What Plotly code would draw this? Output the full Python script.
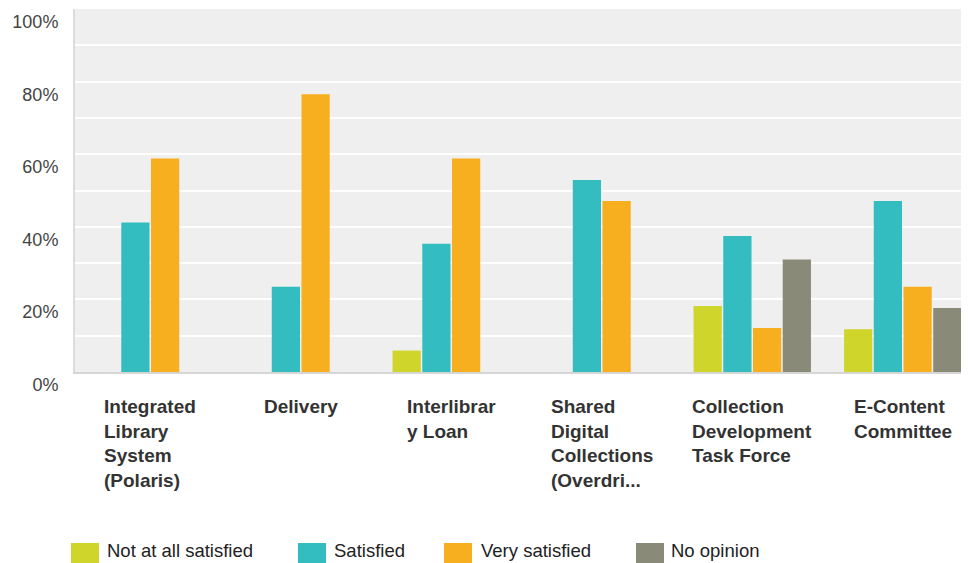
import plotly.graph_objects as go

categories = ["Integrated<br>Library<br>System<br>(Polaris)", "Delivery", "Interlibrar<br>y Loan",
              "Shared<br>Digital<br>Collections<br>(Overdri...", "Collection<br>Development<br>Task Force",
              "E-Content<br>Committee"]
series_names = ["Not at all satisfied", "Satisfied", "Very satisfied", "No opinion"]
not_at_all = [None, None, 5.9, None, 18.2, 11.8]
satisfied = [41.2, 23.5, 35.3, 52.9, 37.5, 47.1]
very_satisfied = [58.8, 76.5, 58.8, 47.1, 12.1, 23.5]
no_opinion = [None, None, None, None, 31.0, 17.6]
colors = ["#CFD52A", "#33BDC0", "#F7AF1F", "#8A8A79"]
tick_vals = [0, 10, 20, 30, 40, 50, 60, 70, 80, 90, 100]
tick_text = ["0%", "", "20%", "", "40%", "", "60%", "", "80%", "", "100%"]

OFF = 8  # page body margin
W, H = 969 - OFF, 563 - OFF
PL, PT, PB = 75, 9, 372  # plot edges in reference pixels
ML, MT = PL - OFF, PT - OFF
MB = 563 - PB
plot_w = 969 - PL
plot_h = PB - PT

xs = list(range(len(categories)))
fig = go.Figure()
for name, vals, col in zip(series_names, [not_at_all, satisfied, very_satisfied, no_opinion], colors):
    fig.add_trace(go.Bar(x=xs, y=vals, name=name, marker=dict(color=col, line=dict(width=0)),
                         showlegend=False))

cat_px = 150.5
span = plot_w / cat_px

def px_x(px):
    return (px - PL) / plot_w

def px_y(py):
    return (PB - py) / plot_h

FONT = "Liberation Sans, Arial, sans-serif"
annotations = []
for i, c in enumerate(categories):
    annotations.append(dict(x=i, y=px_y(394), xref="x", yref="paper", text="<b>" + c + "</b>",
                            showarrow=False, xanchor="center", yanchor="top", align="left",
                            font=dict(family=FONT, size=19, color="#333333")))

shapes = []
legend_pos = [(71, 105), (298, 332), (444, 479), (636, 669)]
for (sx, tx), name, col in zip(legend_pos, series_names, colors):
    shapes.append(dict(type="rect", xref="paper", yref="paper", x0=px_x(sx), x1=px_x(sx + 28),
                       y0=px_y(543), y1=px_y(571), fillcolor=col, line=dict(width=0), layer="above"))
    annotations.append(dict(x=px_x(tx), y=px_y(550), xref="paper", yref="paper", text=name,
                            showarrow=False, xanchor="left", yanchor="middle",
                            font=dict(family=FONT, size=18.5, color="#222222")))

fig.update_layout(
    width=W, height=H,
    margin=dict(l=ML, r=0, t=MT, b=MB, pad=0),
    paper_bgcolor="white", plot_bgcolor="#EFEFEF",
    barmode="group", bargap=0.21, bargroupgap=0.05,
    font=dict(family=FONT),
    annotations=annotations, shapes=shapes,
    xaxis=dict(range=[-0.5, -0.5 + span], showticklabels=False, showgrid=False, zeroline=False,
               showline=True, linecolor="#D6D6D6", linewidth=2, fixedrange=True),
    yaxis=dict(range=[0, 100], tickvals=tick_vals, ticktext=tick_text, showgrid=True,
               gridcolor="white", gridwidth=2, zeroline=False, showline=True, linecolor="#DCDCDC",
               linewidth=2, ticks="", ticklabelposition="outside bottom", ticklabelstandoff=11,
               tickfont=dict(size=18, color="#444444", family=FONT)),
)

fig.write_html("out.html")
